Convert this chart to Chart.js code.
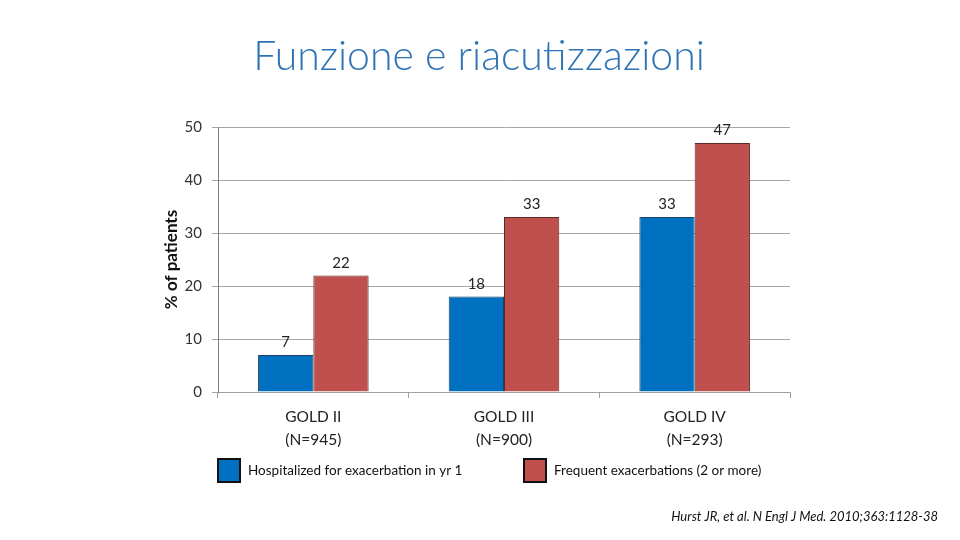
<!DOCTYPE html>
<html>
<head>
<meta charset="utf-8">
<script src="https://cdn.jsdelivr.net/npm/chart.js@4/dist/chart.umd.min.js"></script>
<style>
  html, body { margin: 0; padding: 0; background: #fff; }
  #wrap { width: 960px; height: 540px; position: relative; }
</style>
</head>
<body>
<div id="wrap"><canvas id="c" width="960" height="540"></canvas></div>
<script>
// --- DATA ---
const categories = [['GOLD II', '(N=945)'], ['GOLD III', '(N=900)'], ['GOLD IV', '(N=293)']];
const hospitalized = [7, 18, 33];
const frequent = [22, 33, 47];
const seriesNames = ['Hospitalized for exacerbation in yr 1', 'Frequent exacerbations (2 or more)'];
const yTicks = [0, 10, 20, 30, 40, 50];

const FONT = 'Lato, "Open Sans", sans-serif';

// titre, étiquettes de valeurs, légende et source
const decor = {
  id: 'decor',
  afterDatasetsDraw(chart) {
    const ctx = chart.ctx;
    ctx.save();
    // valeurs au-dessus des barres
    ctx.font = '15px ' + FONT;
    ctx.fillStyle = '#222';
    ctx.textAlign = 'center';
    ctx.textBaseline = 'bottom';
    chart.data.datasets.forEach((ds, i) => {
      chart.getDatasetMeta(i).data.forEach((bar, j) => {
        ctx.fillText(ds.data[j], bar.x, bar.y - 5);
      });
    });
    ctx.restore();
  },
  afterDraw(chart) {
    const ctx = chart.ctx;
    ctx.save();
    // titre
    ctx.font = '300 41px ' + FONT;
    ctx.fillStyle = '#2E74B5';
    ctx.textAlign = 'center';
    ctx.textBaseline = 'middle';
    ctx.fillText('Funzione e riacutizzazioni', 479, 57);

    // légende
    const legendX = [218, 524];
    ctx.font = '13.5px ' + FONT;
    ctx.textAlign = 'left';
    chart.data.datasets.forEach((ds, i) => {
      const x = legendX[i];
      ctx.fillStyle = ds.backgroundColor;
      ctx.fillRect(x, 459, 22, 23);
      ctx.lineWidth = 2;
      ctx.strokeStyle = '#111';
      ctx.strokeRect(x, 459, 22, 23);
      ctx.fillStyle = '#111';
      ctx.fillText(ds.label, x + 30, 471);
    });

    // source
    ctx.font = 'italic 13px ' + FONT;
    ctx.textAlign = 'right';
    ctx.fillStyle = '#111';
    ctx.fillText('Hurst JR, et al. N Engl J Med. 2010;363:1128-38', 938, 517);
    ctx.restore();
  }
};

new Chart(document.getElementById('c'), {
  type: 'bar',
  data: {
    labels: categories,
    datasets: [
      { label: seriesNames[0], data: hospitalized, backgroundColor: '#0070C0', borderColor: '#1d3f66', borderWidth: 1 },
      { label: seriesNames[1], data: frequent, backgroundColor: '#C0504D', borderColor: '#5a2a28', borderWidth: 1 }
    ]
  },
  options: {
    responsive: false,
    animation: false,
    layout: { padding: { left: 161, right: 170, top: 127, bottom: 93 } },
    plugins: {
      legend: { display: false },
      tooltip: { enabled: false }
    },
    datasets: { bar: { barPercentage: 1, categoryPercentage: 0.58 } },
    scales: {
      x: {
        afterFit(scale) { scale.height = 55; },
        grid: { drawOnChartArea: false, color: '#a0a0a0', tickLength: 6 },
        border: { color: '#a0a0a0' },
        ticks: { color: '#222', font: { family: FONT, size: 15.5, lineHeight: 1.45 }, padding: 8 }
      },
      y: {
        min: 0, max: 50,
        afterFit(scale) { scale.width = 57; },
        afterBuildTicks(scale) { scale.ticks = yTicks.map(v => ({ value: v })); },
        grid: { color: '#a6a6a6', tickLength: 6 },
        border: { color: '#7f7f7f' },
        ticks: { color: '#333', font: { family: FONT, size: 15 }, padding: 10 },
        title: { display: true, text: '% of patients', color: '#111', font: { family: FONT, size: 17, weight: 'bold' }, padding: 0 }
      }
    }
  },
  plugins: [decor]
});
</script>
</body>
</html>
